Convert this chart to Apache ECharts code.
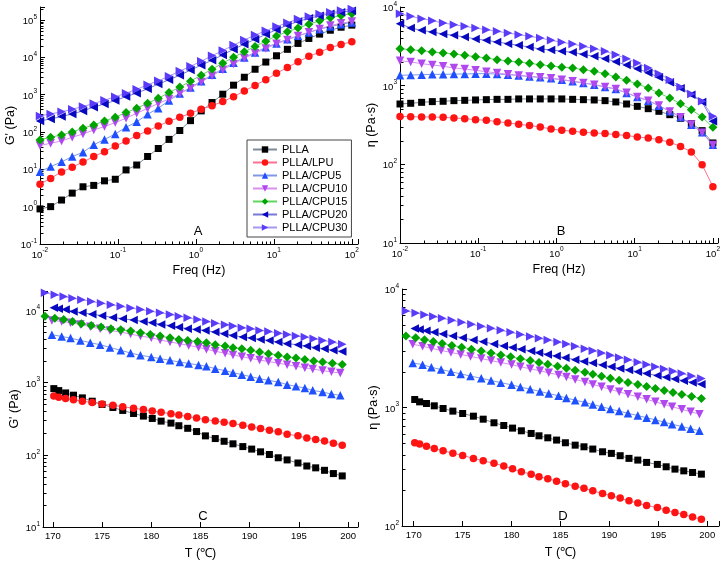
<!DOCTYPE html>
<html><head><meta charset="utf-8">
<script src="https://cdn.jsdelivr.net/npm/echarts@6/dist/echarts.min.js"></script>
<style>html,body{margin:0;padding:0;background:#fff}#c{width:723px;height:562px}</style>
</head><body><div id="c"></div>
<script>
// ---------- data ----------
const names = ['PLLA','PLLA/LPU','PLLA/CPU5','PLLA/CPU10','PLLA/CPU15','PLLA/CPU20','PLLA/CPU30'];
const freq = [0.01,0.0137,0.0189,0.0259,0.0356,0.0489,0.0672,0.0924,0.127,0.174,0.240,0.329,0.452,0.621,0.853,1.17,1.61,2.21,3.04,4.18,5.74,7.88,10.8,14.9,20.4,28.1,38.6,53.0,72.8,100];
// Panel A: G' vs freq
const gA_PLLA  = [0.87,1.0,1.5,2.3,3.4,3.7,4.9,5.4,9.6,13,22,36,63,109,200,365,610,1020,1780,2900,4750,7400,10900,16200,23300,31700,41400,52600,63300,72000];
const gA_LPU   = [4.0,5.7,8.5,11.3,15.7,21.8,29.6,42,57,80,106,144,193,246,316,405,500,650,870,1250,1750,2500,3700,5300,7500,10500,13600,18000,21900,25800];
const gA_CPU5  = [8.6,11.8,15.8,21.8,28.6,45,63,88,133,186,297,430,690,1060,1540,2280,3360,4870,7100,9800,13400,18300,23300,30300,37300,45700,56000,66000,76000,85000];
const gA_CPU10 = [43,50,57,72,88,113,139,178,232,316,425,575,760,1060,1480,2180,3170,4600,6600,9400,12800,17000,22800,29000,37000,46500,57000,70000,81000,90000];
const gA_CPU15 = [61,72,83,100,125,154,196,246,330,430,585,790,1130,1580,2280,3300,4760,6900,10000,13900,19300,26800,37000,47700,60000,76000,94000,113000,131000,145000];
const gA_CPU20 = [196,223,257,303,365,460,560,690,880,1090,1420,1900,2470,3300,4500,6100,8300,11500,16300,22300,30000,41000,54000,72000,90000,110000,128000,145000,160000,175000];
const gA_CPU30 = [268,303,345,405,480,575,705,870,1090,1380,1820,2330,3100,4240,5700,7800,10900,15000,21000,29000,39000,51000,66000,83000,105000,123000,142000,160000,178000,195000];
// Panel B: eta vs freq
const eB_PLLA  = [585,597,614,627,633,645,651,658,664,670,670,678,678,678,678,678,670,664,658,645,621,585,546,510,472,428,385,330,268,187];
const eB_LPU   = [407,404,400,400,396,388,381,370,363,349,336,323,311,299,281,271,263,255,251,246,239,232,223,216,206,191,169,144,99,52];
const eB_CPU5  = [1353,1366,1379,1393,1393,1406,1406,1420,1420,1406,1380,1350,1310,1275,1240,1191,1135,1081,1030,962,908,807,718,645,557,472,400,319,255,178];
const eB_CPU10 = [2080,2000,1905,1832,1762,1679,1629,1567,1507,1449,1393,1350,1310,1275,1240,1191,1140,1085,1030,965,905,810,720,645,560,470,398,320,252,176];
const eB_CPU15 = [2951,2868,2788,2681,2603,2527,2430,2336,2246,2141,2058,2000,1923,1849,1778,1720,1679,1597,1521,1422,1289,1169,1050,934,807,697,590,495,400,295];
const eB_CPU20 = [6138,5408,5050,4810,4536,4365,4157,3920,3770,3590,3420,3258,3100,2924,2850,2740,2655,2502,2360,2205,2018,1832,1644,1463,1276,1103,925,769,620,352];
const eB_CPU30 = [8222,7603,7108,6699,6263,5962,5680,5408,5150,4904,4670,4447,4235,4033,3780,3556,3386,3164,2956,2730,2478,2205,1942,1679,1422,1191,962,783,632,408];
// Temperatures (bottom panels)
const tempC1 = [170.1,170.6,171.3,172.1,173.0,174.0,175.0,176.1,177.1,178.2,179.2,180.1,181.0,182.0,182.8,183.7,184.6,185.5,186.5,187.4,188.3,189.3,190.2,191.1,192.0,192.9,193.8,194.9,195.8,196.7,197.6,198.5,199.4];
const tempC2 = [169.2,170.2,171.1,172.0,172.9,173.9,174.9,175.9,176.9,177.9,178.9,179.9,180.9,181.9,182.8,183.7,184.7,185.6,186.5,187.5,188.3,189.2,190.1,191.0,191.9,192.9,193.8,194.7,195.6,196.5,197.4,198.4,199.4];
const tempC3 = [169.9,170.9,171.8,172.8,173.8,174.8,175.8,176.9,177.9,178.9,180.0,180.9,181.9,182.9,183.8,184.8,185.6,186.5,187.5,188.3,189.2,190.1,191.0,191.9,192.9,193.8,194.7,195.6,196.4,197.4,198.3,199.2];
// Panel C: G' vs T
const gC_PLLA  = [826,776,720,670,615,553,499,453,412,374,344,319,293,275,253,233,210,183,168,154,142,130,120,110,101,91,85,77,70,66,61,55,51];
const gC_LPU   = [653,627,601,578,553,530,506,485,464,443,423,405,388,371,355,339,324,307,294,283,271,257,243,231,219,208,193,183,171,163,155,145,136];
const gC_CPU5  = [4610,4365,4140,3845,3575,3355,3075,2800,2570,2390,2265,2150,2035,1930,1840,1760,1680,1563,1466,1375,1290,1210,1135,1075,1020,938,889,842,782,741,695,667];
const gC_CPU10 = [7280,7050,6760,6400,5940,5580,5290,5010,4700,4410,4190,3900,3660,3460,3280,3080,2900,2720,2560,2420,2290,2170,2060,1960,1860,1770,1690,1610,1540,1470,1410,1360];
const gC_CPU15 = [8340,7820,7510,7050,6550,6210,5890,5590,5410,5180,4920,4660,4410,4190,3970,3850,3700,3575,3355,3210,3050,2950,2800,2650,2520,2390,2260,2190,2100,1990,1930,1850,1790];
const gC_CPU20 = [10900,10560,10330,9680,9290,8890,8450,8000,7670,7350,7050,6760,6400,6140,5870,5590,5450,5290,5010,4760,4510,4280,4140,3970,3845,3650,3460,3355,3210,3050,2950,2800,2710];
const gC_CPU30 = [17600,16500,15600,14800,14100,13300,12600,12000,11400,10800,10300,9770,9290,8810,8340,7930,7470,7050,6670,6340,6070,5770,5590,5290,5130,4850,4660,4410,4280,4060,3845,3650,3390];
// Panel D: eta vs T
const eD_PLLA  = [1168,1116,1081,1033,981,932,890,845,797,743,705,670,636,604,577,555,531,504,481,466,446,423,410,392,372,360,344,331,316,302,292,283,274];
const eD_LPU   = [504,491,472,451,431,412,394,372,355,338,321,304,287,274,260,251,239,227,217,208,198,188,180,172,163,156,149,143,136,130,125,119,114];
const eD_CPU5  = [2375,2300,2183,2092,2005,1921,1842,1765,1691,1621,1553,1488,1427,1367,1310,1256,1203,1153,1105,1059,1015,972,932,893,856,820,786,753,722,692,663,636];
const eD_CPU10 = [3420,3289,3162,3034,2917,2805,2698,2588,2489,2393,2301,2208,2123,2042,1963,1884,1811,1726,1644,1567,1493,1422,1355,1291,1230,1172,1117,1064,1014,966,920,879];
const eD_CPU15 = [4018,3873,3733,3597,3467,3342,3221,3105,2992,2884,2780,2679,2582,2489,2399,2312,2228,2143,2061,1982,1905,1832,1762,1694,1629,1567,1507,1449,1393,1340,1288,1239,1191];
const eD_CPU20 = [4634,4550,4436,4305,4169,4018,3873,3715,3581,3436,3311,3206,3105,2992,2904,2805,2716,2630,2535,2449,2371,2286,2208,2138,2070,2000,1936,1858,1799,1738,1683,1629,1574];
const eD_CPU30 = [6531,6281,6067,5861,5662,5445,5236,5035,4842,4656,4477,4305,4140,3981,3846,3715,3573,3428,3281,3126,3006,2877,2754,2636,2523,2404,2301,2203,2109,2018,1932,1841,1754];

// ---------- styles ----------
const FONT = 'Liberation Sans, Arial, sans-serif';
const sty = [
  {symbol:'rect', rot:0, size:7, color:'#000000', line:'#7d8a99'},
  {symbol:'circle', rot:0, size:7.5, color:'#ff1414', line:'#ff7090'},
  {symbol:'triangle', rot:0, size:8.5, color:'#1e50ff', line:'#8098e8'},
  {symbol:'triangle', rot:180, size:8.5, color:'#b048f0', line:'#d890f0'},
  {symbol:'diamond', rot:0, size:9, color:'#00a300', line:'#60d860'},
  {symbol:'triangle', rot:90, size:8.5, color:'#0808c0', line:'#7878d8'},
  {symbol:'triangle', rot:-90, size:8.5, color:'#5a3cf8', line:'#a896f4'}
];

function mk(i, xs, ys, gi) {
  const s = sty[i];
  return {
    type:'line', name:names[i], xAxisIndex:gi, yAxisIndex:gi,
    data: ys.map((y, k) => [xs[k], y]),
    symbol:s.symbol, symbolRotate:s.rot, symbolSize:s.size,
    itemStyle:{color:s.color}, lineStyle:{color:s.line, width:1},
    showSymbol:true, z:2
  };
}

function supLabel(v) {
  const l = Math.log10(v), e = Math.round(l);
  if (Math.abs(l - e) > 1e-6) return '';
  return '{b|10}{s|' + e + '}';
}
const rich = {
  b:{fontSize:9.5, fontFamily:FONT, color:'#000', lineHeight:13, verticalAlign:'bottom'},
  s:{fontSize:6.5, fontFamily:FONT, color:'#000', lineHeight:8, verticalAlign:'top'}
};

function minorVals(lo, hi) {
  const out = [];
  for (let e = Math.floor(Math.log10(lo)); e <= Math.ceil(Math.log10(hi)); e++) {
    for (let k = 2; k <= 9; k++) {
      const v = k * Math.pow(10, e);
      if (v > lo * 1.0001 && v < hi * 0.9999) out.push(v);
    }
  }
  return out;
}
function minorSeries(gi, xLo, xHi, yLo, yHi, xLog) {
  const data = [];
  if (xLog) minorVals(xLo, xHi).forEach(v => data.push([v, yLo, 0]));
  minorVals(yLo, yHi).forEach(v => data.push([xLo, v, 1]));
  return {
    type:'custom', xAxisIndex:gi, yAxisIndex:gi, silent:true, z:1, clip:false, data,
    renderItem:(p, api) => {
      const pt = api.coord([api.value(0), api.value(1)]);
      const isY = api.value(2) === 1;
      const x = Math.round(pt[0]) + 0.5, y = Math.round(pt[1]) + 0.5;
      return {type:'line', shape: isY ? {x1:x, y1:y, x2:x + 3, y2:y} : {x1:x, y1:y, x2:x, y2:y - 3},
              style:{stroke:'#000', lineWidth:1}};
    }
  };
}

const axisBase = {
  axisLine:{show:true, onZero:false, lineStyle:{color:'#000', width:1}},
  axisTick:{show:true, inside:true, length:5, lineStyle:{color:'#000', width:1}},
  splitLine:{show:false},
  nameLocation:'middle',
  nameTextStyle:{fontFamily:FONT, fontSize:12.5, color:'#000'}
};
function logAxis(gi, min, max, name, gap, extra) {
  return Object.assign({}, axisBase, {type:'log', logBase:10, gridIndex:gi, min, max, name, nameGap:gap,
    axisLabel:{formatter:supLabel, rich, margin:3}}, extra || {});
}
function tAxis(gi, min, max) {
  return Object.assign({}, axisBase, {type:'value', gridIndex:gi, min, max, splitNumber:6, name:'T (\u2103)', nameGap:20,
    axisLabel:{formatter:v => (Math.abs(v % 5) < 1e-9 ? String(v) : ''), fontSize:9.5, fontFamily:FONT, color:'#000', margin:4}});
}

const A = {xmin:0.01, xmax:120, ymin:0.1, ymax:2.2e5};
const B = {xmin:0.01, xmax:116, ymin:10, ymax:1e4};
const C = {xmin:169, xmax:201, ymin:10, ymax:1.86e4};
const D = {xmin:168.8, xmax:201.2, ymin:100, ymax:1e4};

const series = [
  minorSeries(0, A.xmin, A.xmax, A.ymin, A.ymax, true),
  minorSeries(1, B.xmin, B.xmax, B.ymin, B.ymax, true),
  minorSeries(2, C.xmin, C.xmax, C.ymin, C.ymax, false),
  minorSeries(3, D.xmin, D.xmax, D.ymin, D.ymax, false),
  mk(0, freq, gA_PLLA, 0), mk(1, freq, gA_LPU, 0), mk(2, freq, gA_CPU5, 0), mk(3, freq, gA_CPU10, 0),
  mk(4, freq, gA_CPU15, 0), mk(5, freq, gA_CPU20, 0), mk(6, freq, gA_CPU30, 0),
  mk(0, freq, eB_PLLA, 1), mk(1, freq, eB_LPU, 1), mk(2, freq, eB_CPU5, 1), mk(3, freq, eB_CPU10, 1),
  mk(4, freq, eB_CPU15, 1), mk(5, freq, eB_CPU20, 1), mk(6, freq, eB_CPU30, 1),
  mk(0, tempC1, gC_PLLA, 2), mk(1, tempC1, gC_LPU, 2), mk(2, tempC3, gC_CPU5, 2), mk(3, tempC3, gC_CPU10, 2),
  mk(4, tempC2, gC_CPU15, 2), mk(5, tempC1, gC_CPU20, 2), mk(6, tempC2, gC_CPU30, 2),
  mk(0, tempC1, eD_PLLA, 3), mk(1, tempC1, eD_LPU, 3), mk(2, tempC3, eD_CPU5, 3), mk(3, tempC3, eD_CPU10, 3),
  mk(4, tempC2, eD_CPU15, 3), mk(5, tempC1, eD_CPU20, 3), mk(6, tempC2, eD_CPU30, 3)
];

const chart = echarts.init(document.getElementById('c'));
chart.setOption({
  animation:false,
  backgroundColor:'#fff',
  textStyle:{fontFamily:FONT},
  grid:[
    {left:40, top:7, width:318, height:237},
    {left:400, top:7, width:318, height:236},
    {left:43, top:291, width:315, height:236},
    {left:402, top:289, width:317, height:237}
  ],
  xAxis:[
    logAxis(0, A.xmin, A.xmax, 'Freq (Hz)', 20),
    logAxis(1, B.xmin, B.xmax, 'Freq (Hz)', 20),
    tAxis(2, C.xmin, C.xmax),
    tAxis(3, D.xmin, D.xmax)
  ],
  yAxis:[
    logAxis(0, A.ymin, A.ymax, "G' (Pa)", 22),
    logAxis(1, B.ymin, B.ymax, '\u03b7 (Pa\u00b7s)', 22),
    logAxis(2, C.ymin, C.ymax, "G' (Pa)", 22),
    logAxis(3, D.ymin, D.ymax, '\u03b7 (Pa\u00b7s)', 22)
  ],
  legend:{
    data:names, orient:'vertical', left:247, top:140, padding:[3,4,3,5],
    itemWidth:24, itemHeight:8, itemGap:0, borderColor:'#444', borderWidth:1, backgroundColor:'#fff',
    textStyle:{fontFamily:FONT, fontSize:11, color:'#000', lineHeight:13}
  },
  graphic:[
    {type:'text', x:198, y:231, style:{text:'A', font:'13px Liberation Sans', fill:'#000', align:'center', verticalAlign:'middle'}},
    {type:'text', x:561, y:231, style:{text:'B', font:'13px Liberation Sans', fill:'#000', align:'center', verticalAlign:'middle'}},
    {type:'text', x:203, y:516, style:{text:'C', font:'13px Liberation Sans', fill:'#000', align:'center', verticalAlign:'middle'}},
    {type:'text', x:563, y:516, style:{text:'D', font:'13px Liberation Sans', fill:'#000', align:'center', verticalAlign:'middle'}}
  ],
  series
});
</script></body></html>
